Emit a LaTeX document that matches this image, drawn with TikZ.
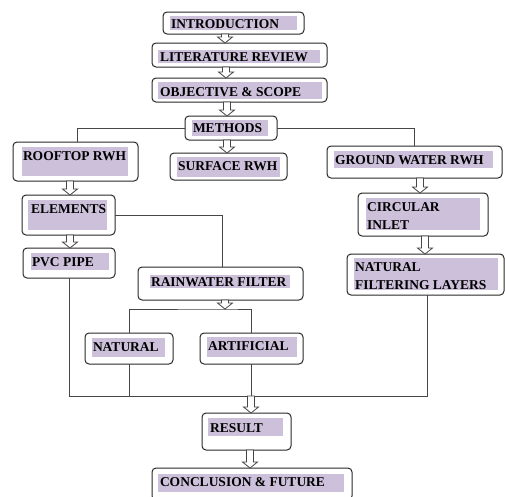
\documentclass[tikz,border=0pt]{standalone}
\usepackage{fontspec}
\setmainfont{Liberation Serif}
\usetikzlibrary{calc}
\definecolor{hlc}{RGB}{204,192,218}
\definecolor{edgec}{RGB}{40,40,40}
\definecolor{linec}{RGB}{70,70,70}
\tikzset{
  boxst/.style={draw=edgec, line width=1pt, rounded corners=4pt, inner sep=0pt, outer sep=0pt},
  txt/.style={inner sep=0pt, outer sep=0pt, anchor=base west, font=\bfseries\fontsize{13.5}{17.5}\selectfont, align=left},
  conn/.style={draw=linec, line width=0.9pt},
  harr/.style={draw=linec, line width=0.8pt, fill=white, line join=miter},
}
\newcommand{\bx}[5]{\node[boxst, minimum width={#4-#2}, minimum height={#5-#3}] (#1) at ({(#2+#4)/2},{(#3+#5)/2}) {};}
\newcommand{\hl}[4]{\fill[hlc] (#1,#2) rectangle (#3,#4);}
\newcommand{\harrow}[3]{\draw[harr] ({#1-3.5},#2) -- ({#1+3.5},#2) -- ({#1+3.5},{#3-6}) -- ({#1+7.5},{#3-6}) -- (#1,#3) -- ({#1-7.5},{#3-6}) -- ({#1-3.5},{#3-6}) -- cycle;}
\begin{document}
\begin{tikzpicture}[x=1pt,y=-1pt]
\useasboundingbox (0,0) rectangle (505,496);
\fill[white] (0,0) rectangle (505,496);
% boxes
\bx{intro}{163}{12}{304}{34}
\bx{lit}{152}{43}{327}{67}
\bx{obj}{152}{78}{327}{102}
\bx{methods}{185}{116}{277}{140}
\bx{rooftop}{13}{142}{138}{181}
\bx{surface}{170}{153}{287}{180}
\bx{elements}{22}{195}{115}{235}
\bx{pvc}{23}{248}{115}{278}
\bx{filter}{138}{267}{303}{300}
\bx{natural}{85}{333}{173}{364}
\bx{artificial}{200}{333}{303}{364}
\bx{ground}{327}{146}{502}{178}
\bx{circular}{358}{193}{488}{236}
\bx{nfl}{347}{254}{504}{295}
\bx{result}{202}{413}{291}{450}
\bx{concl}{152}{468}{352}{500}
% highlights
\hl{170}{16}{297}{30}
\hl{158}{50}{320}{63}
\hl{158}{82}{322}{99}
\hl{192}{120}{268}{136}
\hl{22}{147}{128}{176}
\hl{177}{157}{280}{177}
\hl{28}{200}{107}{230}
\hl{31}{253}{109}{270}
\hl{150}{275}{290}{288}
\hl{92}{338}{165}{357}
\hl{207}{337}{297}{357}
\hl{334}{151}{493}{168}
\hl{366}{198}{480}{230}
\hl{354}{258}{498}{290}
\hl{208}{418}{283}{436}
\hl{158}{474}{344}{492}
% texts
\node[txt] (tintro) at (171,28.5) {INTRODUCTION};
\node[txt] (tlit) at (160,61) {LITERATURE REVIEW};
\node[txt] (tobj) at (160,96) {OBJECTIVE \& SCOPE};
\node[txt] (tmethods) at (193,132.5) {METHODS};
\node[txt] (troof) at (23,160.5) {ROOFTOP RWH};
\node[txt] (tsurf) at (178,170.7) {SURFACE RWH};
\node[txt] (telem) at (31,213) {ELEMENTS};
\node[txt] (tpvc) at (32,266.5) {PVC PIPE};
\node[txt] (tfilter) at (151,286.5) {RAINWATER FILTER};
\node[txt] (tnat) at (93,351.5) {NATURAL};
\node[txt] (tart) at (208,350) {ARTIFICIAL};
\node[txt] (tground) at (335,164.3) {GROUND WATER RWH};
\node[txt] (tcirc1) at (367,211.7) {CIRCULAR};
\node[txt] (tcirc2) at (367,229) {INLET};
\node[txt] (tnfl1) at (355,271.7) {NATURAL};
\node[txt] (tnfl2) at (355,289.3) {FILTERING LAYERS};
\node[txt] (tres) at (210,432.5) {RESULT};
\node[txt] (tconc) at (160,486.7) {CONCLUSION \& FUTURE};
% connectors
\coordinate (c1) at (77,0);
\coordinate (c2) at (414,0);
\coordinate (c3) at (222,0);
\coordinate (jn) at (225,309);
\coordinate (bl) at (69,396);
\coordinate (br) at (427,396);
\draw[conn] (methods.west) -| (c1 |- rooftop.north);
\draw[conn] (methods.east) -| (c2 |- ground.north);
\draw[conn] (elements.east) -| (c3 |- filter.north);
\draw[conn] (natural.north) |- (jn) -| (artificial.north);
\draw[conn] (pvc.south) |- (br) -- (br |- nfl.south);
\draw[conn] (natural.south) -- (natural.south |- bl);
\draw[conn] (artificial.south) -- (artificial.south |- bl);
% hollow arrows
\harrow{225}{34}{43}
\harrow{226}{67}{78}
\harrow{227}{102}{116}
\harrow{227}{140}{153}
\harrow{70}{181}{195}
\harrow{70}{235}{248}
\harrow{420}{178}{193}
\harrow{425}{236}{254}
\harrow{225}{300}{309}
\harrow{251}{396}{413}
\harrow{250}{450}{468}
\end{tikzpicture}
\end{document}
